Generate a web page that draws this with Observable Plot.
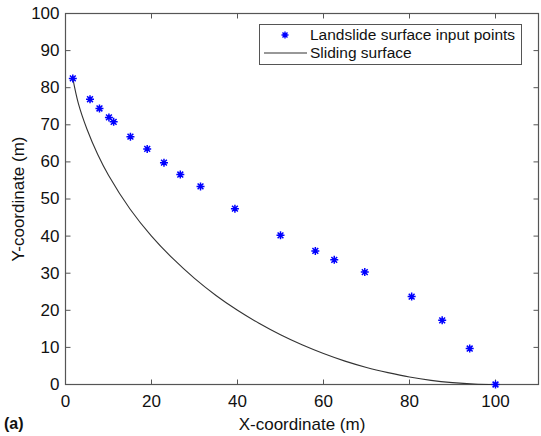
<!DOCTYPE html>
<html>
<head>
<meta charset="utf-8">
<script src="https://cdn.jsdelivr.net/npm/d3@7"></script>
<script src="https://cdn.jsdelivr.net/npm/@observablehq/plot@0.6"></script>
<style>
  html, body { margin: 0; padding: 0; background: #fff; }
  #chart { position: relative; width: 541px; height: 436px; }
</style>
</head>
<body>
<div id="chart"></div>
<script>
// Landslide surface input points
const pointX = [1.7, 5.7, 7.9, 10.1, 11.2, 15.1, 19.0, 22.9, 26.7, 31.4, 39.4, 50.0, 58.1, 62.5, 69.6, 80.5, 87.6, 94.0, 100.0];
const pointY = [82.5, 76.9, 74.4, 72.0, 70.8, 66.8, 63.5, 59.8, 56.6, 53.4, 47.4, 40.2, 36.0, 33.6, 30.3, 23.7, 17.3, 9.7, 0.0];

// Sliding surface curve
const curveX = [1.7, 3, 5, 7.5, 10, 15, 20, 25, 30, 35, 40, 45, 50, 55, 60, 65, 70, 75, 80, 85, 90, 95, 100];
const curveY = [82.5, 75.7, 68.8, 62.0, 56.4, 47.3, 40.0, 33.9, 28.6, 24.0, 20.0, 16.5, 13.4, 10.7, 8.35, 6.3, 4.6, 3.2, 2.0, 1.1, 0.5, 0.13, 0.0];

const xTicks = [0, 20, 40, 60, 80, 100];
const yTicks = [0, 10, 20, 30, 40, 50, 60, 70, 80, 90, 100];

const legendLabels = ["Landslide surface input points", "Sliding surface"];
const xTitle = "X-coordinate (m)";
const yTitle = "Y-coordinate (m)";
const panelTag = "(a)";

const points = pointX.map((x, i) => ({x, y: pointY[i]}));
const curve = curveX.map((x, i) => ({x, y: curveY[i]}));

const FONT = "'Liberation Sans', Arial, sans-serif";
const blue = "#0000ff";
const frameColor = "#555";

// short tick glyphs used to draw inward MATLAB-style ticks
const vTick = {draw(ctx) { ctx.moveTo(0, -2.5); ctx.lineTo(0, 2.5); }};
const hTick = {draw(ctx) { ctx.moveTo(-2.5, 0); ctx.lineTo(2.5, 0); }};
// MATLAB '*' marker: plus + times
const starSym = {draw(ctx) {
  const a = 4, b = 2.9;
  ctx.moveTo(-a, 0); ctx.lineTo(a, 0);
  ctx.moveTo(0, -a); ctx.lineTo(0, a);
  ctx.moveTo(-b, -b); ctx.lineTo(b, b);
  ctx.moveTo(-b, b); ctx.lineTo(b, -b);
}};

const plot = Plot.plot({
  width: 541,
  height: 436,
  marginLeft: 65,
  marginRight: 3,
  marginTop: 13,
  marginBottom: 52,
  style: {fontFamily: FONT, fontSize: "17px", color: "#111", background: "#fff"},
  x: {domain: [0, 110]},
  y: {domain: [0, 100]},
  marks: [
    Plot.frame({stroke: frameColor, strokeWidth: 1.2}),
    Plot.axisX({ticks: xTicks, tickSize: 0, tickPadding: 10, label: xTitle, labelAnchor: "center", labelOffset: 45, labelArrow: "none", fontSize: 17}),
    Plot.axisY({ticks: yTicks, tickSize: 0, tickPadding: 6, label: yTitle, labelAnchor: "center", labelOffset: 54, labelArrow: "none", fontSize: 17}),
    // inward ticks on all four sides
    Plot.dot(xTicks, {x: d => d, frameAnchor: "bottom", dy: -2.5, symbol: vTick, r: 1, stroke: frameColor, strokeWidth: 1}),
    Plot.dot(xTicks, {x: d => d, frameAnchor: "top", dy: 2.5, symbol: vTick, r: 1, stroke: frameColor, strokeWidth: 1}),
    Plot.dot(yTicks, {y: d => d, frameAnchor: "left", dx: 2.5, symbol: hTick, r: 1, stroke: frameColor, strokeWidth: 1}),
    Plot.dot(yTicks, {y: d => d, frameAnchor: "right", dx: -2.5, symbol: hTick, r: 1, stroke: frameColor, strokeWidth: 1}),
    Plot.line(curve, {x: "x", y: "y", curve: "catmull-rom", stroke: "#333", strokeWidth: 1.1}),
    Plot.dot(points, {x: "x", y: "y", symbol: starSym, r: 1, stroke: blue, strokeWidth: 1.5})
  ]
});

document.getElementById("chart").appendChild(plot);

// Legend box inside the plot (styled like the MATLAB legend)
const svg = d3.select(plot);
const lg = svg.append("g").attr("font-family", FONT).attr("font-size", 15.5).attr("fill", "#111").attr("text-anchor", "start");
lg.append("rect").attr("x", 259.5).attr("y", 24.5).attr("width", 262).attr("height", 40)
  .attr("fill", "#fff").attr("stroke", "#555").attr("stroke-width", 1);
lg.append("path").attr("transform", "translate(285,35)")
  .attr("d", "M-3.5,0H3.5M0,-3.5V3.5M-2.5,-2.5L2.5,2.5M-2.5,2.5L2.5,-2.5")
  .attr("fill", "none").attr("stroke", blue).attr("stroke-width", 1.4);
lg.append("text").attr("x", 310).attr("y", 35).attr("dy", "0.35em").text(legendLabels[0]);
lg.append("line").attr("x1", 264).attr("x2", 307).attr("y1", 53).attr("y2", 53).attr("stroke", "#333").attr("stroke-width", 1.1);
lg.append("text").attr("x", 310).attr("y", 53).attr("dy", "0.35em").text(legendLabels[1]);

svg.append("text").attr("x", 4).attr("y", 423).attr("dy", "0.35em").attr("text-anchor", "start")
  .attr("font-family", FONT).attr("font-size", 16).attr("font-weight", "bold").attr("fill", "#111")
  .text(panelTag);
</script>
</body>
</html>
